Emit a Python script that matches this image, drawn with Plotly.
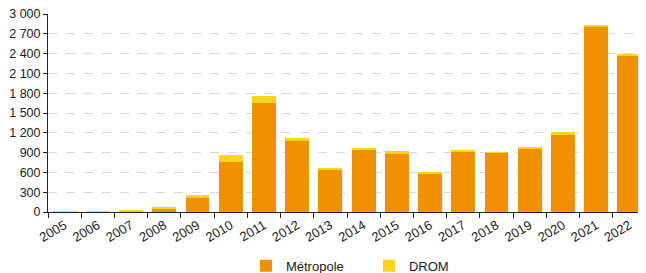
import plotly.graph_objects as go

years = [str(y) for y in range(2005, 2023)]
metropole = [10, 10, 15, 60, 215, 755, 1645, 1070, 650, 950, 890, 585, 920, 905, 965, 1180, 2805, 2370]
drom = [5, 5, 2, 3, 40, 105, 120, 45, 15, 5, 30, 10, 5, 3, 20, 30, 30, 25]
y_ticks = [0, 300, 600, 900, 1200, 1500, 1800, 2100, 2400, 2700, 3000]
y_tick_labels = ["0", "300", "600", "900", "1 200", "1 500", "1 800", "2 100", "2 400", "2 700", "3 000"]

fig = go.Figure()
fig.add_trace(go.Bar(x=years, y=metropole, name="Métropole", marker_color="#EF9100", marker_line_width=0))
fig.add_trace(go.Bar(x=years, y=drom, name="DROM", marker_color="#FDD41A", marker_line_width=0))

fig.update_layout(
    barmode="stack",
    bargap=0.28,
    width=638, height=265,
    margin=dict(l=40, r=0, t=6, b=61, autoexpand=False),
    paper_bgcolor="white", plot_bgcolor="white",
    font=dict(family="Liberation Sans, Arial, sans-serif", size=13, color="#222"),
    legend=dict(orientation="h", x=0.331, xanchor="left", y=-0.272, yanchor="middle",
                font=dict(size=13), itemwidth=30, entrywidth=78, traceorder="normal"),
    showlegend=True,
)
fig.update_xaxes(
    type="category", showline=True, linecolor="#222", linewidth=1,
    ticks="outside", tickson="boundaries", ticklen=5, tickcolor="#222",
    tickangle=-30, showgrid=False, tickfont=dict(size=13), automargin=False,
    ticklabeloverflow="allow",
)
fig.update_yaxes(
    range=[0, 3001], tickvals=y_ticks, ticktext=y_tick_labels,
    showline=True, linecolor="#222", linewidth=1,
    ticks="outside", ticklen=4, tickcolor="#222",
    showgrid=True, gridcolor="#d9d9d9", griddash="dash", gridwidth=1,
    zeroline=False, tickfont=dict(size=12.5), automargin=False,
    ticklabeloverflow="allow",
)

fig.write_html("out.html")
